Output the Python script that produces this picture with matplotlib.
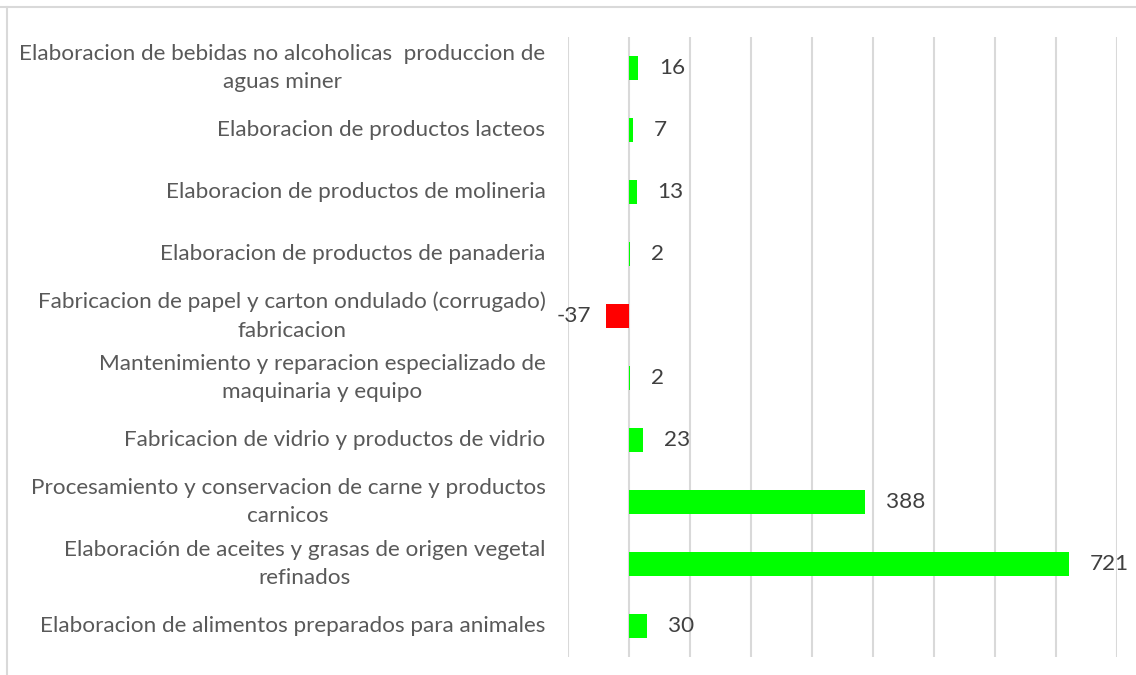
import matplotlib
matplotlib.use("Agg")
import matplotlib.pyplot as plt
from matplotlib.lines import Line2D

categories = [
    "Elaboracion de bebidas no alcoholicas  produccion de\naguas miner",
    "Elaboracion de productos lacteos",
    "Elaboracion de productos de molineria",
    "Elaboracion de productos de panaderia",
    "Fabricacion de papel y carton ondulado (corrugado)\nfabricacion",
    "Mantenimiento y reparacion especializado de\nmaquinaria y equipo",
    "Fabricacion de vidrio y productos de vidrio",
    "Procesamiento y conservacion de carne y productos\ncarnicos",
    "Elaboración de aceites y grasas de origen vegetal\nrefinados",
    "Elaboracion de alimentos preparados para animales",
]
values = [16, 7, 13, 2, -37, 2, 23, 388, 721, 30]

W, H = 1136, 675
fig = plt.figure(figsize=(W / 100, H / 100), dpi=100)
plt.rcParams['font.family'] = ['Lato', 'DejaVu Sans']

ax = fig.add_axes([567.7 / W, 1 - 657 / H, (1116.8 - 567.7) / W, (657 - 37) / H])
ypos = list(range(len(categories)))
colors = ['#FF0000' if v < 0 else '#00FF00' for v in values]
ax.barh(ypos, values, height=0.4, color=colors, linewidth=0, zorder=3)
ax.set_ylim(len(categories) - 0.5, -0.5)
ax.set_xlim(-100, 800)
ax.set_xticks(range(-100, 801, 100))
ax.xaxis.grid(True, color='#d9d9d9', linewidth=1.5)
ax.tick_params(axis='x', length=0, labelbottom=False)
ax.tick_params(axis='y', length=0, pad=16)
ax.set_yticks(ypos)
ax.set_yticklabels(categories, fontsize=16.2, color='#595959', multialignment='center',
                   linespacing=1.55, va='center')
for s in ax.spines.values():
    s.set_visible(False)

for y, v in zip(ypos, values):
    if v >= 0:
        ax.annotate(str(v), (v, y), xytext=(15, 0), textcoords='offset points',
                    ha='left', va='center', fontsize=16.2, color='#404040')
    else:
        ax.annotate(str(v), (v, y), xytext=(-11, 0), textcoords='offset points',
                    ha='right', va='center', fontsize=16.2, color='#404040')

fig.add_artist(Line2D([0, 1], [1 - 6.5 / H] * 2, transform=fig.transFigure,
                      color='#d9d9d9', linewidth=1.5))
fig.add_artist(Line2D([7 / W] * 2, [0, 1 - 6.5 / H], transform=fig.transFigure,
                      color='#d9d9d9', linewidth=1.5))

fig.savefig('out.png', dpi=100)
